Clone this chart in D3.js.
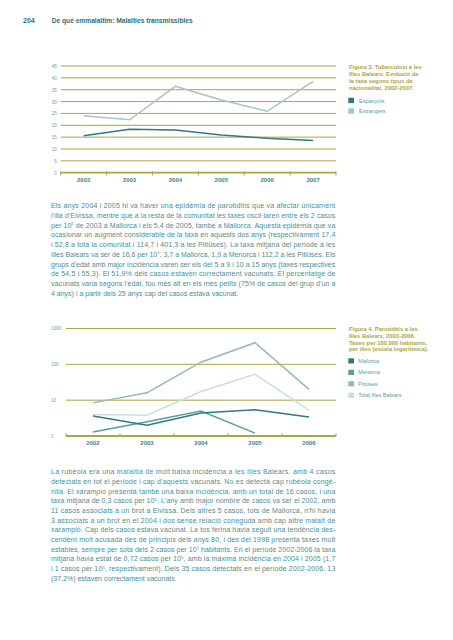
<!DOCTYPE html>
<html><head><meta charset="utf-8">
<script src="https://cdn.jsdelivr.net/npm/d3@7"></script>
<style>body{margin:0;background:#fff}svg{display:block}</style>
</head><body>
<script>
// ---- Data ----
const years1 = ["2002", "2003", "2004", "2005", "2006", "2007"];
const espanyols = [15.6, 18.3, 18.0, 15.9, 14.5, 13.6];
const estrangers = [24.0, 22.3, 36.4, 30.7, 25.9, 38.5];
const ticks1 = [0, 5, 10, 15, 20, 25, 30, 35, 40, 45];
const legend1 = ["Espanyols", "Estrangers"];
const caption1 = ["Figura 3. Tuberculosi a les", "Illes Balears. Evolució de", "la taxa segons tipus de", "nacionalitat, 2002-2007."];

const years2 = ["2002", "2003", "2004", "2005", "2006"];
const mallorca = [3.6, 2.0, 4.4, 5.4, 3.4];
const menorca = [1.3, 2.5, 5.0, 1.2, null];
const pitiuses = [8.4, 16.0, 114.7, 401.3, 20.0];
const totalIB = [4.0, 3.8, 17.4, 52.8, 5.3];
const ticks2 = [1, 10, 100, 1000];
const legend2 = ["Mallorca", "Menorca", "Pitiüses", "Total Illes Balears"];
const caption2 = ["Figura 4. Parotiditis a les", "Illes Balears, 2002-2006.", "Taxes per 100.000 habitants,", "per illes (escala logarítmica)."];

const pageNum = "204";
const pageTitle = "De què emmalaltim: Malalties transmissibles";
const para1 = [
 "Els anys 2004 i 2005 hi va haver una epidèmia de parotiditis que va afectar únicament",
 "l'illa d'Eivissa, mentre que a la resta de la comunitat les taxes oscil·laren entre els 2 casos",
 "per 10^5 de 2003 a Mallorca i els 5,4 de 2005, també a Mallorca. Aquesta epidèmia que va",
 "ocasionar un augment considerable de la taxa en aquests dos anys (respectivament 17,4",
 "i 52,8 a tota la comunitat i 114,7 i 401,3 a les Pitiüses). La taxa mitjana del periode a les",
 "Illes Balears va ser de 16,6 per 10^5, 3,7 a Mallorca, 1,9 a Menorca i 112,2 a les Pitiüses. Els",
 "grups d'edat amb major incidència varen ser els del 5 a 9 i 10 a 15 anys (taxes respectives",
 "de 54,5 i 55,3). El 51,9% dels casos estaven correctament vacunats. El percentatge de",
 "vacunats varia segons l'edat, fou més alt en els més petits (75% de casos del grup d'un a",
 "4 anys) i a partir dels 25 anys cap del casos estava vacunat."
];
const para2 = [
 "La rubèola era una malaltia de molt baixa incidència a les Illes Balears, amb 4 casos",
 "detectats en tot el període i cap d'aquests vacunats. No es detectà cap rubèola congè-",
 "nita. El xarampió presentà també una baixa incidència, amb un total de 16 casos, i una",
 "taxa mitjana de 0,3 casos per 10^5. L'any amb major nombre de casos va ser el 2002, amb",
 "11 casos associats a un brot a Eivissa. Dels altres 5 casos, tots de Mallorca, n'hi havia",
 "3 associats a un brot en el 2004 i dos sense relació coneguda amb cap altre malalt de",
 "xarampió. Cap dels casos estava vacunat. La tos ferina havia seguit una tendència des-",
 "cendent molt acusada des de principis dels anys 80, i des del 1998 presenta taxes molt",
 "estables, sempre per sota dels 2 casos per 10^5 habitants. En el període 2002-2006 la taxa",
 "mitjana havia estat de 0,72 casos per 10^5, amb la màxima incidència en 2004 i 2005 (1,7",
 "i 1 casos per 10^5, respectivament). Dels 35 casos detectats en el període 2002-2006, 13",
 "(37,2%) estaven correctament vacunats."
];

// ---- Style ----
const FONT = "'Liberation Sans', Arial, sans-serif";
const OLIVE = "#aaa642";
const TEAL_TEXT = "#4b8e90";
const DARK = "#2e7a7d";
const C_MEN = "#5c9e9c";
const C_PIT = "#95b9b9";
const C_TOT = "#cbdede";
const C_EST = "#a6c4c5";

const svg = d3.select("body").append("svg").attr("width", 453).attr("height", 640)
  .style("font-family", FONT);

// Header
svg.append("text").attr("x", 23).attr("y", 22.5).attr("font-size", 7).attr("font-weight", "bold")
  .attr("fill", "#2f7174").text(pageNum);
svg.append("text").attr("x", 51.7).attr("y", 22.5).attr("font-size", 7).attr("font-weight", "bold")
  .attr("fill", "#2f7174").attr("textLength", 141).attr("lengthAdjust", "spacingAndGlyphs").text(pageTitle);

// helper for text lines with 10^5 superscripts
function addLine(g, str, x, y, w, justify) {
  const t = g.append("text").attr("x", x).attr("y", y).attr("font-size", 7).attr("fill", TEAL_TEXT);
  if (justify) t.attr("textLength", w).attr("lengthAdjust", "spacing");
  const parts = str.split("^5");
  parts.forEach((p, i) => {
    if (i > 0) {
      t.append("tspan").attr("dy", -2.6).attr("font-size", 4.3).text("5");
      t.append("tspan").attr("dy", 2.6).text(p);
    } else t.append("tspan").text(p);
  });
}
const body = svg.append("g");
para1.forEach((l, i) => addLine(body, l, 51, 208.3 + i * 9.7, 284.3, i < para1.length - 1));
para2.forEach((l, i) => addLine(body, l, 51, 474.3 + i * 9.68, 284.3, i < para2.length - 1));

// ---- Chart 1 ----
{
  const g = svg.append("g");
  const x = d3.scaleBand().domain(years1).range([60.7, 336]);
  const y = d3.scaleLinear().domain([0, 45]).range([172.7, 66]);
  g.selectAll("line.grid").data(ticks1.filter(d => d > 0)).join("line")
    .attr("x1", x.range()[0]).attr("x2", x.range()[1])
    .attr("y1", d => y(d)).attr("y2", d => y(d))
    .attr("stroke", OLIVE).attr("stroke-width", 1);
  g.append("line").attr("x1", x.range()[0]).attr("x2", x.range()[1]).attr("y1", y(0)).attr("y2", y(0))
    .attr("stroke", OLIVE).attr("stroke-width", 1.8);
  const bounds = years1.map(d => x(d)).concat([x.range()[1]]);
  g.selectAll("line.tk").data(bounds).join("line")
    .attr("x1", d => d).attr("x2", d => d).attr("y1", y(0) - 1.5).attr("y2", y(0) + 2.8)
    .attr("stroke", OLIVE).attr("stroke-width", 1);
  const ya = g.append("g").attr("transform", "translate(56.8,0)")
    .call(d3.axisLeft(y).tickValues(ticks1).tickSize(0).tickPadding(0));
  ya.select(".domain").remove();
  ya.selectAll("text").attr("font-size", 4.6).attr("fill", "#6aa2a3").attr("font-family", FONT);
  const xa = g.append("g").attr("transform", `translate(0,${y(0)})`)
    .call(d3.axisBottom(x).tickSize(0).tickPadding(5.5));
  xa.select(".domain").remove();
  xa.selectAll("text").attr("font-size", 6).attr("font-weight", "bold").attr("fill", "#3f8689").attr("font-family", FONT);
  const line = d3.line().x((d, i) => x(years1[i]) + x.bandwidth() / 2).y(d => y(d));
  g.append("path").attr("d", line(estrangers)).attr("fill", "none").attr("stroke", C_EST).attr("stroke-width", 1.5);
  g.append("path").attr("d", line(espanyols)).attr("fill", "none").attr("stroke", DARK).attr("stroke-width", 1.5);
  // caption + legend
  caption1.forEach((c, i) => svg.append("text").attr("x", 349).attr("y", 68.6 + i * 7.2)
    .attr("font-size", 5.8).attr("font-weight", "bold").attr("fill", OLIVE).text(c));
  const cols = [DARK, C_EST];
  legend1.forEach((l, i) => {
    svg.append("rect").attr("x", 348.3).attr("y", 97.7 + i * 10.6).attr("width", 5.7).attr("height", 5.4).attr("fill", cols[i]);
    svg.append("text").attr("x", 359).attr("y", 102.6 + i * 10.6).attr("font-size", 5.5).attr("fill", "#5a9a9b").text(l);
  });
}

// ---- Chart 2 ----
{
  const g = svg.append("g");
  const x = d3.scaleBand().domain(years2).range([66, 336]);
  const y = d3.scaleLog().domain([1, 1000]).range([436, 328.5]);
  g.selectAll("line.grid").data(ticks2.filter(d => d > 1)).join("line")
    .attr("x1", x.range()[0]).attr("x2", x.range()[1])
    .attr("y1", d => y(d)).attr("y2", d => y(d))
    .attr("stroke", OLIVE).attr("stroke-width", 1);
  g.append("line").attr("x1", x.range()[0]).attr("x2", x.range()[1]).attr("y1", y(1)).attr("y2", y(1))
    .attr("stroke", OLIVE).attr("stroke-width", 1.8);
  const bounds = years2.map(d => x(d)).concat([x.range()[1]]);
  g.selectAll("line.tk").data(bounds).join("line")
    .attr("x1", d => d).attr("x2", d => d).attr("y1", y(1) - 2.8).attr("y2", y(1) + 0.5)
    .attr("stroke", OLIVE).attr("stroke-width", 1);
  const ya = g.append("g").attr("transform", "translate(51,0)")
    .call(d3.axisLeft(y).tickValues(ticks2).tickFormat(d3.format("d")).tickSize(0).tickPadding(0));
  ya.select(".domain").remove();
  ya.selectAll("text").attr("text-anchor", "start").attr("font-size", 4.6).attr("fill", "#6aa2a3").attr("font-family", FONT);
  const xa = g.append("g").attr("transform", `translate(0,${y(1)})`)
    .call(d3.axisBottom(x).tickSize(0).tickPadding(5));
  xa.select(".domain").remove();
  xa.selectAll("text").attr("font-size", 6).attr("font-weight", "bold").attr("fill", "#3f8689").attr("font-family", FONT);
  const line = d3.line().defined(d => d != null).x((d, i) => x(years2[i]) + x.bandwidth() / 2).y(d => y(d));
  const series = [[pitiuses, C_PIT], [totalIB, C_TOT], [menorca, C_MEN], [mallorca, DARK]];
  series.forEach(([s, c]) => g.append("path").attr("d", line(s)).attr("fill", "none").attr("stroke", c).attr("stroke-width", 1.5));
  caption2.forEach((c, i) => svg.append("text").attr("x", 349).attr("y", 331 + i * 6.8)
    .attr("font-size", 5.8).attr("font-weight", "bold").attr("fill", OLIVE).text(c));
  const cols = [DARK, C_MEN, C_PIT, C_TOT];
  legend2.forEach((l, i) => {
    svg.append("rect").attr("x", 348.3).attr("y", 358.3 + i * 11.45).attr("width", 5.7).attr("height", 5.2).attr("fill", cols[i]);
    svg.append("text").attr("x", 358.3).attr("y", 363 + i * 11.45).attr("font-size", 5.5).attr("fill", "#5a9a9b").text(l);
  });
}
</script>
</body></html>
